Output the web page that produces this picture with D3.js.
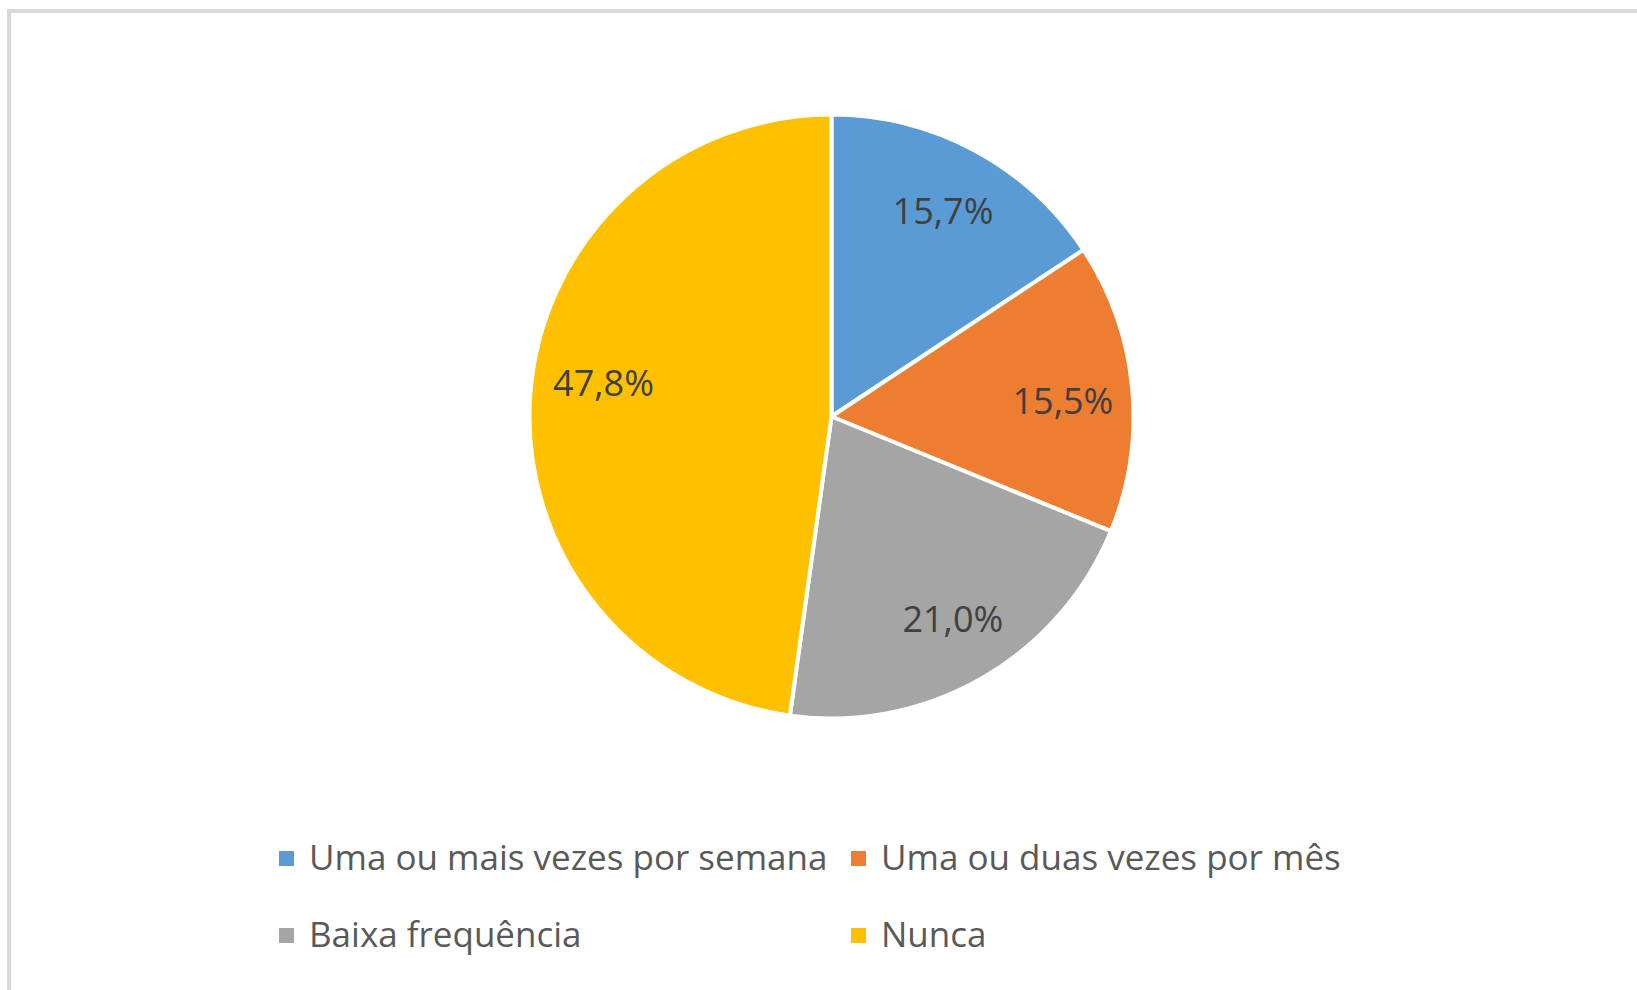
<!DOCTYPE html>
<html>
<head lang="pt">
    <meta charset="UTF-8">
    <title> Pie </title>
    <script src="https://cdn.jsdelivr.net/npm/d3@7"></script>
    <style>
        body { margin: 0; background: #fff; }
        text { font-family: "Open Sans", sans-serif; }
    </style>
</head>
<body>
<div id="chart"></div>
<script>

    // data
    var categories = ["Uma ou mais vezes por semana", "Uma ou duas vezes por mês", "Baixa frequência", "Nunca"];
    var values     = [15.7, 15.5, 21.0, 47.8];
    var colors     = ["#5b9bd5", "#ed7d31", "#a5a5a5", "#ffc000"];

    // small hand nudges of the data labels (Excel "best fit" placement)
    var labelNudge = [[0, 2], [-3, 7], [4, -2], [7, -17]];

    var W = 1637, H = 990;
    var cx = 831.5, cy = 416.5, radius = 302;

    var svg = d3.select("#chart").append("svg")
            .attr("width", W)
            .attr("height", H);

    // outer frame (cut by the window on the right and bottom)
    svg.append("rect")
            .attr("x", 9).attr("y", 11)
            .attr("width", W + 20).attr("height", H + 20)
            .style("fill", "none")
            .style("stroke", "#d9d9d9")
            .style("stroke-width", 4);

    var pie = d3.pie().sort(null).value(function (d) { return d; });
    var arcs = pie(values);

    var arc = d3.arc().innerRadius(0).outerRadius(radius);
    var labelArc = d3.arc().innerRadius(radius * 0.78).outerRadius(radius * 0.78);

    var g = svg.append("g").attr("transform", "translate(" + cx + "," + cy + ")");

    g.selectAll("path")
            .data(arcs).enter().append("path")
            .attr("d", arc)
            .style("fill", function (d, i) { return colors[i]; })
            .style("stroke", "white")
            .style("stroke-width", 4)
            .style("stroke-linejoin", "round");

    var fmt = function (v) { return v.toFixed(1).replace(".", ",") + "%"; };

    g.selectAll("text.lbl")
            .data(arcs).enter().append("text")
            .attr("class", "lbl")
            .attr("x", function (d, i) { return labelArc.centroid(d)[0] + labelNudge[i][0]; })
            .attr("y", function (d, i) { return labelArc.centroid(d)[1] + labelNudge[i][1]; })
            .attr("dy", "0.36em")
            .attr("text-anchor", "middle")
            .style("font-size", "36px")
            .style("fill", "#404040")
            .text(function (d) { return fmt(d.data); });

    // legend, 2 columns x 2 rows
    var colX = [279, 851], rowY = [870, 947];

    var leg = svg.selectAll("g.leg")
            .data(categories).enter().append("g")
            .attr("class", "leg")
            .attr("transform", function (d, i) {
                return "translate(" + colX[i % 2] + "," + rowY[Math.floor(i / 2)] + ")";
            });

    leg.append("rect")
            .attr("x", 0).attr("y", -19)
            .attr("width", 15).attr("height", 15)
            .style("fill", function (d, i) { return colors[i]; });

    leg.append("text")
            .attr("x", 30)
            .attr("y", 0)
            .style("font-size", "35px")
            .style("fill", "#595959")
            .text(function (d) { return d; });

</script>
</body>
</html>
